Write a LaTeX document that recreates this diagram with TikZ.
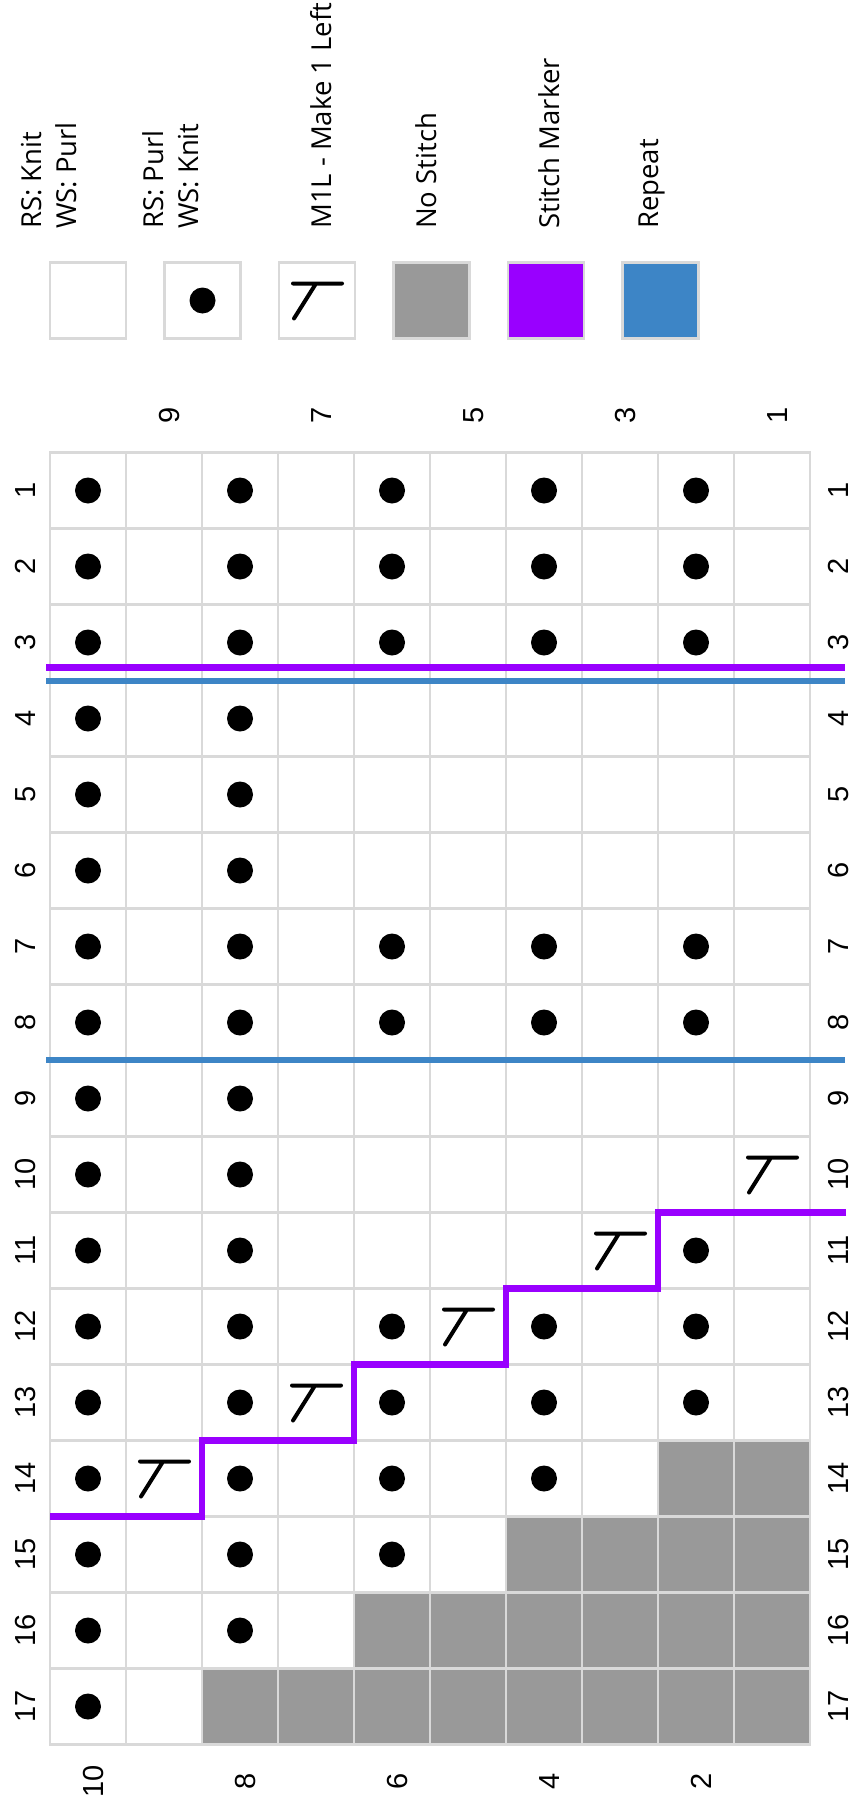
\documentclass[tikz,border=0pt]{standalone}
\usepackage{fontspec}
\newfontfamily\numfont{Liberation Sans}
\newfontfamily\legfont{Open Sans}
\usetikzlibrary{calc}
\definecolor{gridc}{RGB}{217,217,217}
\definecolor{nostitch}{RGB}{153,153,153}
\definecolor{markerc}{RGB}{153,0,255}
\definecolor{repeatc}{RGB}{61,133,198}
\newcommand{\monel}[1]{%
  \draw[m1l] ([shift={(-24,-17)}]#1.center) -- ++(49,0)
             ([shift={(-1,-17)}]#1.center) -- ++(-22,35);}
\begin{document}
\begin{tikzpicture}[x=1pt,y=-1pt,
  cell/.style={draw=gridc, line width=2.5pt, minimum size=76pt, inner sep=0pt, outer sep=0pt, fill=white},
  graycell/.style={cell, fill=nostitch},
  legbox/.style={draw=gridc, line width=2.5pt, minimum size=76pt, inner sep=0pt, outer sep=0pt},
  num/.style={font=\numfont\fontsize{29}{35}\selectfont, rotate=90, anchor=base, inner sep=0pt},
  leg/.style={font=\legfont\fontsize{27.5}{35}\selectfont, rotate=90, anchor=base west, inner sep=0pt, align=left},
  purl/.style={fill=black},
  m1l/.style={line width=4pt, line cap=round, black},
  markerline/.style={draw=markerc, line width=6.5pt, line join=miter},
  repeatline/.style={draw=repeatc, line width=6pt}]
\useasboundingbox (0,0) rectangle (853,1806);

% grid cells
\foreach \r in {1,...,17}{
  \foreach \c in {1,...,10}{
    \node[cell] (c-\r-\c) at ({50+76*(\c-0.5)},{452.5+76*(\r-0.5)}) {};
  }
}
% no-stitch cells
\foreach \r/\c in {14/9,14/10,15/7,15/8,15/9,15/10,16/5,16/6,16/7,16/8,16/9,16/10,
                   17/3,17/4,17/5,17/6,17/7,17/8,17/9,17/10}{
  \node[graycell] at (c-\r-\c) {};
}
% purl dots
\foreach \r in {1,2,3,7,8,12,13}{
  \foreach \c in {1,3,5,7,9}{ \fill[purl] (c-\r-\c) circle (13); }
}
\foreach \r in {4,5,6,9,10,11,14,15,16,17}{
  \foreach \c in {1}{ \fill[purl] (c-\r-\c) circle (13); }
}
\foreach \r in {4,5,6,9,10,11,14,15,16}{
  \fill[purl] (c-\r-3) circle (13);
}
\foreach \r/\c in {11/9,14/5,14/7,15/5}{
  \fill[purl] (c-\r-\c) circle (13);
}
% M1L symbols
\monel{c-10-10}
\monel{c-11-8}
\monel{c-12-6}
\monel{c-13-4}
\monel{c-14-2}

% repeat and marker lines
\coordinate (m1a) at (46,667.3);
\coordinate (m1b) at (845,667.3);
\draw[markerline] (m1a) -- (m1b);
\coordinate (r1a) at (46,681);
\coordinate (r1b) at (845,681);
\draw[repeatline] (r1a) -- (r1b);
\coordinate (r2a) at (46,1060);
\coordinate (r2b) at (845,1060);
\draw[repeatline] (r2a) -- (r2b);
\coordinate (stairend) at (846,1212.5);
\draw[markerline] (stairend) -- (c-10-9.south west) -- (c-11-9.south west)
  -- (c-11-7.south west) -- (c-12-7.south west) -- (c-12-5.south west)
  -- (c-13-5.south west) -- (c-13-3.south west) -- (c-14-3.south west)
  -- (c-14-1.south west);

% stitch numbers (left and right)
\foreach \r in {1,...,17}{
  \node[num] (ln-\r) at (35,{452.5+76*(\r-0.5)}) {\r};
  \node[num] (rn-\r) at (848,{452.5+76*(\r-0.5)}) {\r};
}
% row numbers
\foreach \k in {1,3,5,7,9}{
  \node[num] (tn-\k) at ({50+76*(10.5-\k)+15},415.7) {\k};
}
\foreach \k in {2,4,6,8,10}{
  \node[num] (bn-\k) at ({50+76*(10.5-\k)+15},1781) {\k};
}

% legend boxes
\node[legbox, fill=white] (lb1) at (88,300.5) {};
\node[legbox, fill=white] (lb2) at (202.5,300.5) {};
\node[legbox, fill=white] (lb3) at (317,300.5) {};
\node[legbox, fill=nostitch] (lb4) at (431.5,300.5) {};
\node[legbox, fill=markerc] (lb5) at (546,300.5) {};
\node[legbox, fill=repeatc] (lb6) at (660.5,300.5) {};
\fill[purl] (lb2) circle (13);
\monel{lb3}

% legend labels
\node[leg] (lt1) at (76.5,229) {RS: Knit\\WS: Purl};
\node[leg] (lt2) at (198,229) {RS: Purl\\WS: Knit};
\node[leg] (lt3) at (331.5,229) {M1L - Make 1 Left};
\node[leg] (lt4) at (436.5,229) {No Stitch};
\node[leg] (lt5) at (559.5,229) {Stitch Marker};
\node[leg] (lt6) at (658,229) {Repeat};
\end{tikzpicture}
\end{document}
